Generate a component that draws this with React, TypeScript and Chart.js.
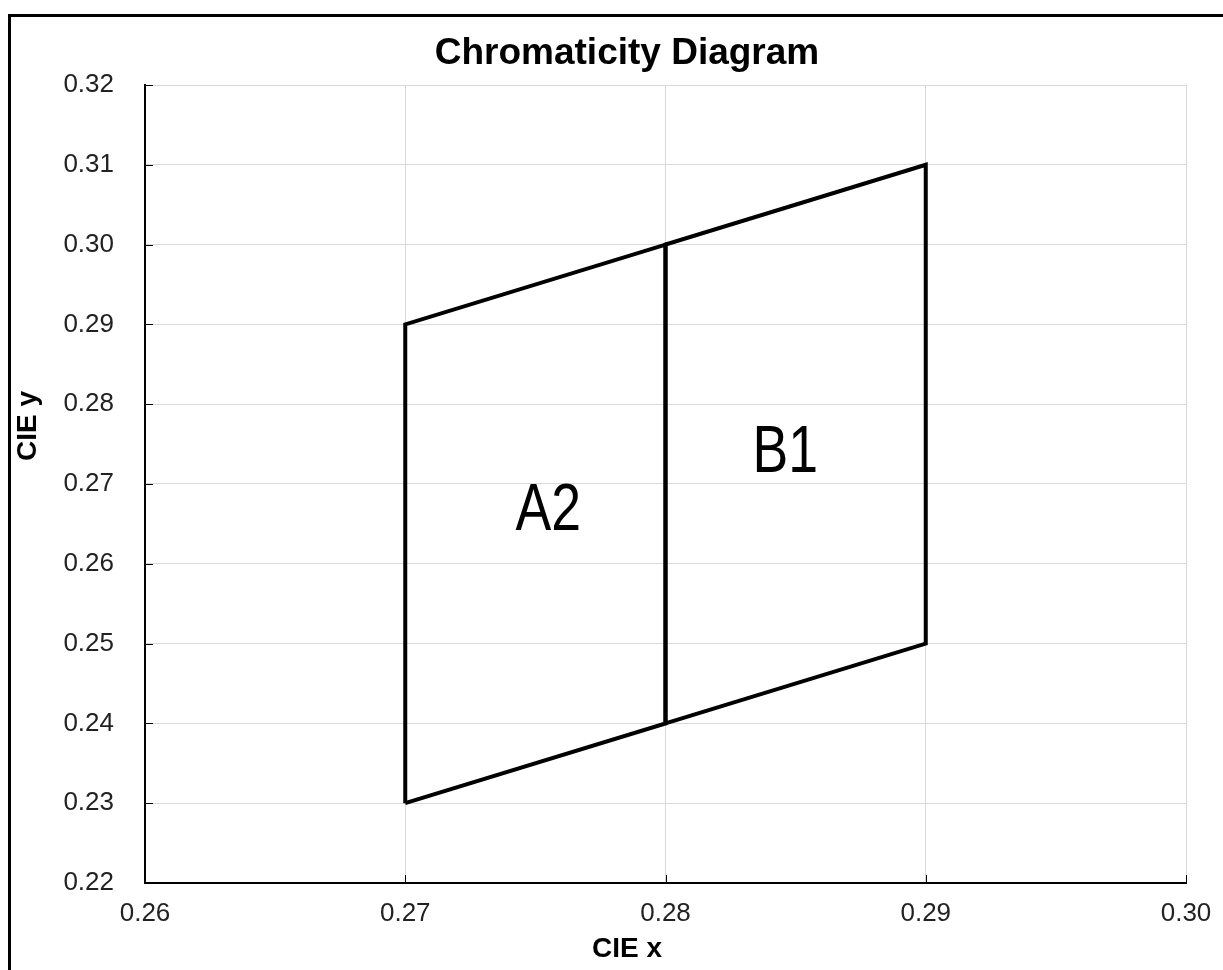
import React, { useEffect, useRef } from 'react';
import { Chart, registerables } from 'chart.js';

Chart.register(...registerables);

const TITLE = 'Chromaticity Diagram';
const X_TITLE = 'CIE x';
const Y_TITLE = 'CIE y';

const X_TICKS = [0.26, 0.27, 0.28, 0.29, 0.3];
const Y_TICKS = [0.22, 0.23, 0.24, 0.25, 0.26, 0.27, 0.28, 0.29, 0.3, 0.31, 0.32];

const A2_X = [0.27, 0.27, 0.28, 0.28, 0.27];
const A2_Y = [0.23, 0.29, 0.3, 0.24, 0.23];
const B1_X = [0.28, 0.28, 0.29, 0.29, 0.28];
const B1_Y = [0.24, 0.3, 0.31, 0.25, 0.24];

const REGION_NAMES = ['A2', 'B1'];
const REGION_LABEL_X = [0.2755, 0.2846];
const REGION_LABEL_Y = [0.2668, 0.2741];

const W = 1223;
const H = 970;

const overlayPlugin = {
  id: 'overlay',
  afterDraw(chart: any) {
    const { ctx, chartArea, scales } = chart;
    const xs = scales.x;
    const ys = scales.y;
    ctx.save();
    // inward tick marks
    ctx.strokeStyle = '#000';
    ctx.lineWidth = 1;
    Y_TICKS.forEach((v) => {
      const py = Math.round(ys.getPixelForValue(v)) + 0.5;
      ctx.beginPath();
      ctx.moveTo(chartArea.left, py);
      ctx.lineTo(chartArea.left + 8, py);
      ctx.stroke();
    });
    X_TICKS.forEach((v) => {
      const px = Math.round(xs.getPixelForValue(v)) + 0.5;
      ctx.beginPath();
      ctx.moveTo(px, chartArea.bottom);
      ctx.lineTo(px, chartArea.bottom - 8);
      ctx.stroke();
    });

    // title
    ctx.fillStyle = '#000';
    ctx.textAlign = 'center';
    ctx.textBaseline = 'middle';
    ctx.font = 'bold 37px "Liberation Sans", Arial, sans-serif';
    ctx.fillText(TITLE, 627, 54);

    // axis titles
    ctx.font = 'bold 28px "Liberation Sans", Arial, sans-serif';
    ctx.fillText(X_TITLE, 627, 949);
    ctx.save();
    ctx.translate(28, 426);
    ctx.rotate(-Math.PI / 2);
    ctx.fillText(Y_TITLE, 0, 0);
    ctx.restore();

    // region labels
    ctx.font = '67px "Liberation Sans", Arial, sans-serif';
    REGION_NAMES.forEach((name, i) => {
      const px = xs.getPixelForValue(REGION_LABEL_X[i]);
      const py = ys.getPixelForValue(REGION_LABEL_Y[i]);
      ctx.save();
      ctx.translate(px, py);
      ctx.scale(0.8, 1);
      ctx.fillText(name, 0, 2);
      ctx.restore();
    });
    ctx.restore();
  },
};

export default function App() {
  const canvasRef = useRef<HTMLCanvasElement | null>(null);

  useEffect(() => {
    const canvas = canvasRef.current;
    if (!canvas) return;
    const toPoints = (xsArr: number[], ysArr: number[]) => xsArr.map((x, i) => ({ x, y: ysArr[i] }));
    const tickFont = { family: '"Liberation Sans", Arial, sans-serif', size: 26 };
    const chart = new Chart(canvas, {
      type: 'scatter',
      data: {
        datasets: [
          {
            label: 'A2',
            data: toPoints(A2_X, A2_Y),
            showLine: true,
            borderColor: '#000',
            borderWidth: 4,
            pointRadius: 0,
            fill: false,
            borderJoinStyle: 'miter',
          },
          {
            label: 'B1',
            data: toPoints(B1_X, B1_Y),
            showLine: true,
            borderColor: '#000',
            borderWidth: 4,
            pointRadius: 0,
            fill: false,
            borderJoinStyle: 'miter',
          },
        ],
      },
      options: {
        responsive: false,
        animation: false,
        devicePixelRatio: 1,
        layout: { padding: { left: 0, top: 85, right: 37, bottom: 0 } },
        plugins: {
          legend: { display: false },
          title: { display: false },
          tooltip: { enabled: false },
        },
        scales: {
          x: {
            type: 'linear',
            min: 0.26,
            max: 0.3,
            afterBuildTicks: (scale: any) => {
              scale.ticks = X_TICKS.map((v) => ({ value: v }));
            },
            afterFit: (scale: any) => {
              scale.height = 87;
              scale.paddingLeft = 0;
              scale.paddingRight = 0;
            },
            grid: { color: '#d9d9d9', lineWidth: 1, drawTicks: false },
            border: { display: true, color: '#000', width: 2 },
            ticks: {
              font: tickFont,
              color: '#222',
              padding: 15,
              maxRotation: 0,
              autoSkip: false,
              callback: (v: any) => Number(v).toFixed(2),
            },
          },
          y: {
            type: 'linear',
            min: 0.22,
            max: 0.32,
            afterBuildTicks: (scale: any) => {
              scale.ticks = Y_TICKS.map((v) => ({ value: v }));
            },
            afterFit: (scale: any) => {
              scale.width = 145;
              scale.paddingTop = 0;
              scale.paddingBottom = 0;
            },
            grid: { color: '#d9d9d9', lineWidth: 1, drawTicks: false },
            border: { display: true, color: '#000', width: 2 },
            ticks: {
              font: tickFont,
              color: '#222',
              padding: 31,
              autoSkip: false,
              callback: (v: any) => Number(v).toFixed(2),
            },
          },
        },
      },
      plugins: [overlayPlugin],
    } as any);
    return () => chart.destroy();
  }, []);

  return (
    <div style={{ position: 'absolute', left: 0, top: 0, width: W, height: H, overflow: 'hidden', background: '#fff' }}>
      <div
        style={{
          position: 'absolute',
          left: 8,
          top: 14,
          width: W - 8,
          height: H - 14,
          boxSizing: 'border-box',
          borderLeft: '3px solid #000',
          borderTop: '3px solid #000',
        }}
      />
      <canvas
        ref={canvasRef}
        width={W}
        height={H}
        style={{ position: 'absolute', left: 0, top: 0, width: W, height: H, display: 'block' }}
      />
    </div>
  );
}
